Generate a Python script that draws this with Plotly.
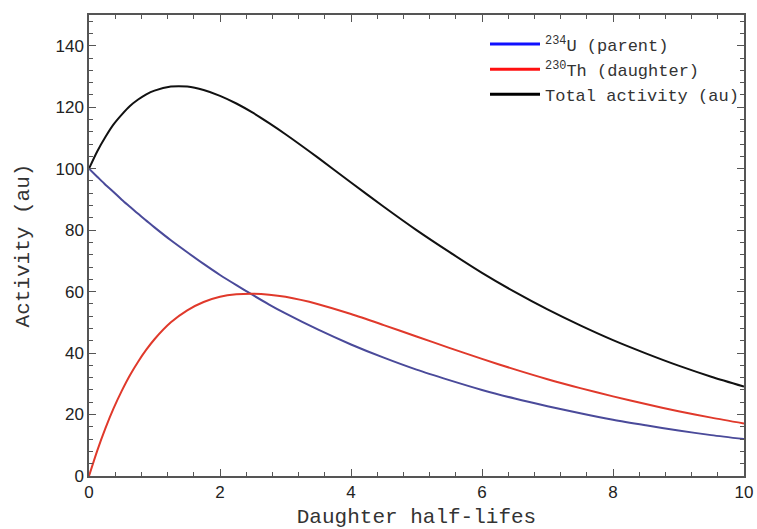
import plotly.graph_objects as go

# Values
t = [0, 0.125, 0.25, 0.375, 0.5, 0.625, 0.75, 0.875, 1, 1.25, 1.5, 1.75, 2, 2.25, 2.5, 2.75, 3,
     3.5, 4, 4.5, 5, 5.5, 6, 6.5, 7, 7.5, 8, 8.5, 9, 9.5, 10]
parent = [100, 97.4, 94.8, 92.4, 89.9, 87.6, 85.3, 83.1, 80.9, 76.7, 72.8, 69.0, 65.4, 62.1, 58.9,
          55.8, 52.9, 47.6, 42.8, 38.5, 34.6, 31.2, 28.0, 25.2, 22.7, 20.4, 18.3, 16.5, 14.8, 13.3, 12.0]
daughter = [0, 8.2, 15.5, 22.0, 27.7, 32.8, 37.2, 41.1, 44.5, 50.0, 53.9, 56.6, 58.3, 59.1, 59.3,
            59.0, 58.3, 55.9, 52.7, 49.1, 45.4, 41.7, 38.1, 34.7, 31.5, 28.6, 25.9, 23.4, 21.1, 19.0, 17.1]
total = [100, 105.6, 110.3, 114.4, 117.6, 120.4, 122.5, 124.2, 125.4, 126.7, 126.7, 125.6, 123.7,
         121.2, 118.2, 114.8, 111.2, 103.5, 95.5, 87.6, 80.0, 72.9, 66.1, 59.9, 54.2, 49.0, 44.2,
         39.9, 35.9, 32.3, 29.1]

names = ["<sup>234</sup>U (parent)", "<sup>230</sup>Th (daughter)", "Total activity (au)"]
plot_colors = ["#4a4a9a", "#e0392b", "#111111"]
legend_colors = ["#1010ff", "#ff1010", "#000000"]

fig = go.Figure()
for y, c in zip([parent, daughter, total], plot_colors):
    fig.add_trace(go.Scatter(x=t, y=y, mode="lines",
                             line=dict(color=c, width=2, shape="spline", smoothing=0.8),
                             showlegend=False, hoverinfo="skip"))
for n, c in zip(names, legend_colors):
    fig.add_trace(go.Scatter(x=[None], y=[None], mode="lines", name=n,
                             line=dict(color=c, width=3)))

axis_common = dict(
    showline=True, linecolor="#555555", linewidth=1.5, mirror="ticks",
    ticks="inside", ticklen=7, tickwidth=1.2, tickcolor="#555555",
    showgrid=False, zeroline=False, automargin=False,
    tickfont=dict(family="Liberation Sans, Arial", size=17, color="#222222"),
)

fig.update_xaxes(range=[0, 10], dtick=2, tick0=0,
                 minor=dict(ticks="inside", ticklen=4, dtick=0.4, tickcolor="#555555", showgrid=False),
                 title=dict(text="Daughter half-lifes", standoff=12,
                            font=dict(family="Liberation Mono, Courier New", size=21, color="#333333")),
                 **axis_common)
fig.update_yaxes(range=[0, 150], dtick=20, tick0=0,
                 minor=dict(ticks="inside", ticklen=4, dtick=4, tickcolor="#555555", showgrid=False),
                 title=dict(text="Activity (au)", standoff=20,
                            font=dict(family="Liberation Mono, Courier New", size=21, color="#333333")),
                 **axis_common)

fig.update_layout(
    width=757, height=529,
    margin=dict(l=89, r=13, t=15, b=53),
    plot_bgcolor="white", paper_bgcolor="white",
    legend=dict(x=1.0, xanchor="right", y=0.975, yanchor="top", bgcolor="rgba(255,255,255,0)",
                font=dict(family="Liberation Mono, Courier New", size=17, color="#333333"),
                itemwidth=50, tracegroupgap=0),
)

fig.write_html("out.html")
